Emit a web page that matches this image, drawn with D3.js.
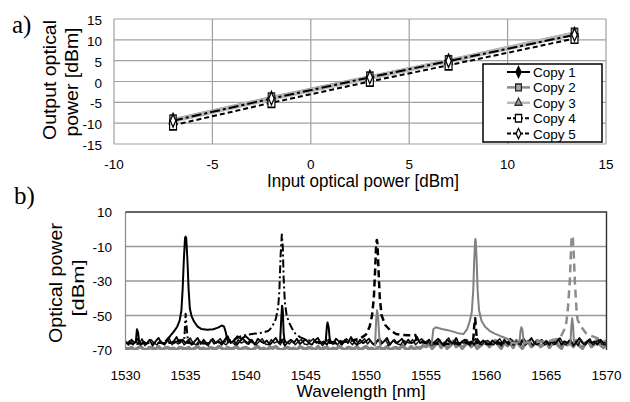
<!DOCTYPE html>
<html>
<head>
<meta charset="utf-8">
<script src="https://d3js.org/d3.v7.min.js"></script>
<style>
body { margin: 0; background: #fff; }
svg text { font-family: "Liberation Sans", Arial, sans-serif; fill: #000; }
</style>
</head>
<body>
<div id="chart"></div>
<script>
// ---- a) output vs input power ----
var inputPower = [-7, -2, 3, 7, 13.4];
var copy1Out = [-9.3, -4.0, 1.0, 4.9, 11.3];
var copy2Out = [-9.1, -3.8, 1.2, 5.1, 11.7];
var copy3Out = [-9.4, -4.1, 0.9, 4.9, 11.5];
var copy4Out = [-10.5, -5.1, 0.0, 3.9, 10.3];
var copy5Out = [-9.4, -4.1, 1.0, 4.9, 11.2];
var copyNames = ["Copy 1", "Copy 2", "Copy 3", "Copy 4", "Copy 5"];
var xTicksA = [-10, -5, 0, 5, 10, 15];
var yTicksA = [-15, -10, -5, 0, 5, 10, 15];

// ---- b) optical spectra ----
var xTicksB = [1530, 1535, 1540, 1545, 1550, 1555, 1560, 1565, 1570];
var yTicksB = [10, -10, -30, -50, -70];
// noise floors sampled every 0.25 nm
var floorStep = 0.25;
var floorStartA = 1530, floorStartB = 1530.125;
var floorBlack = [
  -65,-67,-64,-66,-63.5,-67,-65,-66.5,-64,-67.5,-65,-63,-66,-67,-64.5,-66,-65,-62.5,-66,-64,
  -66,-64,-67,-65,-63,-66.5,-64,-67,-65.5,-63.5,-66,-65,-67,-64,-62,-66,-64.5,-67,-65,-63.5,
  -65,-66.5,-64,-67,-63.5,-65,-66,-64.5,-67,-65,-63,-66,-64,-67.5,-65.5,-64,-66,-63.5,-66.5,-65,
  -64,-66,-67,-64.5,-63,-66,-65,-67,-64,-66.5,-63.5,-65,-67,-64,-66,-62.5,-65.5,-67,-64,-66,
  -65,-63.5,-66,-67,-64,-66.5,-65,-63,-67,-64.5,-66,-65,-63.5,-67,-64,-66,-65.5,-62.5,-66,-64.5,
  -66,-64,-67,-65,-63.5,-66,-67.5,-64,-65.5,-66,-63,-67,-65,-64,-66.5,-65,-67,-63.5,-66,-64.5,
  -66,-67,-64.5,-66,-65,-67.5,-64,-66,-63.5,-67,-65,-66.5,-64,-67,-65.5,-63,-66,-67,-64.5,-66,
  -65,-67,-64,-66.5,-63.5,-67,-65,-66,-64,-67.5,-65.5,-63,-66,-67,-64.5,-66,-65,-67,-64,-66,
  -65];
var floorBlack2 = [
  -66,-64.5,-67,-65,-66.5,-63.5,-67.5,-65,-64,-66,-67,-64.5,-66,-65.5,-63,-67,-65,-66.5,-64,-67,
  -65.5,-63,-66,-67,-64.5,-66,-65,-67.5,-64,-66.5,-65,-63.5,-66,-67,-64.5,-65.5,-67,-64,-66,-65,
  -66.5,-64,-65.5,-67,-65,-63.5,-66.5,-67,-64,-66,-65,-67,-63.5,-65.5,-66.5,-64.5,-67,-65,-64,-66.5,
  -67,-65,-63.5,-66,-64.5,-67.5,-65.5,-64,-66,-65,-67,-64.5,-66,-63.5,-65,-67,-64,-66.5,-65.5,-63.5,
  -66.5,-64.5,-67,-65,-63.5,-66,-64,-67.5,-65.5,-64,-66.5,-67,-64.5,-65.5,-66,-64,-67,-65,-63.5,-66,
  -64.5,-67,-65.5,-66,-64,-67,-65,-63,-66.5,-64.5,-67,-65.5,-66,-64,-67.5,-65,-63.5,-66,-67,-65,
  -64.5,-66,-67,-65,-63.5,-66.5,-65,-67,-64,-66,-65.5,-67,-63.5,-66,-64.5,-67.5,-65,-66,-64,-67,
  -66,-64.5,-67,-65.5,-63,-66,-67,-64.5,-66,-65,-67.5,-64,-66.5,-65,-63.5,-67,-65.5,-64,-66.5,-67,
  -65.5];
var floorGray = [
  -69,-69.5,-68.5,-70,-69,-68,-69.5,-70,-68.5,-69,-69.5,-68,-70,-69,-68.5,-69.5,-69,-70,-68.5,-69,
  -69.5,-68.5,-70,-69,-68,-69.5,-69,-70,-68.5,-69,-69.5,-68,-69,-70,-68.5,-69.5,-69,-68,-70,-69,
  -68.5,-69.5,-70,-69,-68,-69.5,-69,-70,-68.5,-69,-68,-69.5,-70,-69,-68.5,-69.5,-69,-70,-68,-69,
  -69.5,-68.5,-69,-70,-68,-69.5,-69,-68.5,-70,-69,-69.5,-68,-69,-70,-68.5,-69,-69.5,-68,-70,-69,
  -68,-69.5,-69,-70,-68.5,-69,-69.5,-68,-70,-69,-68.5,-69.5,-67.5,-69,-70,-68,-69.5,-68.5,-69,-67.5,
  -68,-66.5,-69,-67,-65.5,-68.5,-66,-69,-67.5,-65,-68,-66.5,-69,-67,-65.5,-68,-66,-69,-67.5,-66,
  -65.5,-68,-66.5,-64.5,-67,-69,-65.5,-67.5,-66,-68.5,-64.5,-67,-69,-66,-65,-68,-66.5,-64.5,-68,-67,
  -65,-68.5,-66,-64.5,-67.5,-69,-65.5,-67,-66,-68,-64.5,-67.5,-69,-66,-65,-68,-66.5,-64,-67,-68.5,
  -66];

// peaks, [wavelength nm, power dBm], one list per segment
var spec1535 = [
  [[1530.85,-66],[1530.95,-58],[1531.05,-60],[1531.15,-66]],
  [[1533.3,-65],[1533.7,-62],[1534.0,-59.5],[1534.3,-56.5],[1534.5,-53],[1534.65,-47],[1534.75,-35],
   [1534.85,-18],[1534.95,-5],[1535.0,-4.3],[1535.05,-5],[1535.15,-18],[1535.25,-35],[1535.35,-46],
   [1535.5,-50.5],[1535.7,-53.5],[1536.0,-56.5],[1536.3,-57.8],[1536.8,-58.3],[1537.3,-58],[1537.7,-57],
   [1538.0,-55.8],[1538.2,-56.5],[1538.35,-60],[1538.45,-64],[1538.6,-66]],
  [[1539.0,-65],[1539.3,-62],[1539.6,-63.5],[1540.0,-62],[1540.3,-64],[1540.6,-66]],
  [[1542.85,-66],[1542.95,-52],[1543.02,-44.3],[1543.08,-47],[1543.15,-60],[1543.25,-66]],
  [[1546.65,-65],[1546.75,-56],[1546.8,-54],[1546.9,-57],[1547.0,-65]]
];
var spec1543 = [
  [[1530,-66],[1531,-66.5],[1532,-66],[1533,-66],[1534,-66],[1534.9,-63],[1535.0,-49],[1535.1,-58],
   [1535.2,-66],[1536,-66.5],[1537,-66],[1538,-65.5],[1539,-64],[1539.6,-62],[1540.2,-61],[1540.8,-60.5],
   [1541.4,-60],[1541.9,-58.8],[1542.2,-56.5],[1542.5,-52],[1542.7,-45],[1542.8,-35],[1542.9,-15],
   [1543.0,-3],[1543.08,-10],[1543.15,-28],[1543.25,-42],[1543.4,-50],[1543.6,-54],[1543.85,-57.5],
   [1544.1,-60.3],[1544.5,-62.5],[1545,-64],[1546,-65.5],[1547,-66],[1548,-66.5]]
];
var spec1551 = [
  [[1546,-66],[1547.5,-65.5],[1548.5,-65],[1549.5,-63.5],[1550.0,-61],[1550.3,-56.5],[1550.5,-50],
   [1550.65,-40],[1550.75,-25],[1550.85,-8],[1550.9,-6.2],[1550.95,-8],[1551.05,-25],[1551.15,-40],
   [1551.3,-50],[1551.6,-55.5],[1552.0,-58.5],[1552.5,-60.7],[1553.0,-61.2],[1553.5,-61.5],[1554.1,-61.3],
   [1554.3,-65],[1555,-66],[1556.5,-66.5],[1558,-66],[1558.9,-66],[1559.0,-56],[1559.08,-51.6],
   [1559.15,-58],[1559.25,-66],[1560,-66.5],[1562,-66]]
];
var spec1559 = [
  [[1550.75,-68],[1550.85,-52],[1550.92,-47],[1551.0,-50],[1551.1,-62],[1551.2,-68]],
  [[1555.45,-67],[1555.6,-58],[1555.8,-56.8],[1556.3,-57.8],[1556.8,-58.5],[1557.3,-59.5],[1557.8,-60.5],
   [1558.1,-60.8],[1558.4,-58],[1558.6,-54],[1558.8,-48],[1558.92,-35],[1559.0,-18],[1559.07,-7],
   [1559.1,-5.6],[1559.13,-7],[1559.2,-18],[1559.28,-35],[1559.4,-47],[1559.6,-53],[1559.9,-56.5],
   [1560.3,-59],[1560.7,-60.5],[1561.2,-62],[1561.7,-63.3],[1562.1,-65]],
  [[1562.75,-66],[1562.85,-59],[1562.92,-56.8],[1563.0,-58],[1563.1,-64],[1563.2,-67]],
  [[1567.0,-66],[1567.08,-56],[1567.15,-51.6],[1567.22,-56],[1567.3,-66]]
];
var spec1567 = [
  [[1562,-66],[1564,-65.5],[1565.5,-64.5],[1566.2,-62.3],[1566.5,-58],[1566.65,-54.5],[1566.8,-45],
   [1566.95,-30],[1567.05,-12],[1567.1,-4.5],[1567.15,-3.7],[1567.2,-5],[1567.28,-15],[1567.38,-32],
   [1567.5,-46],[1567.6,-52.6],[1567.9,-56.5],[1568.3,-60.3],[1568.8,-62],[1569.25,-63.2],
   [1569.7,-64.5],[1570,-65]]
];

var W = 630, H = 402;
var svg = d3.select("#chart").append("svg")
    .attr("width", W)
    .attr("height", H);

// panel labels
svg.append("text").attr("x", 12).attr("y", 33)
    .style("font-family", "'Liberation Serif', 'Times New Roman', serif")
    .style("font-size", "25px").text("a)");
svg.append("text").attr("x", 14).attr("y", 204)
    .style("font-family", "'Liberation Serif', 'Times New Roman', serif")
    .style("font-size", "25px").text("b)");

/////////////
// PANEL a //
/////////////
var xA = d3.scaleLinear().domain([-10, 15]).range([114, 606]);
var yA = d3.scaleLinear().domain([-15, 15]).range([144, 19]);
var gA = svg.append("g");

gA.selectAll(".hgrid").data(yTicksA).enter().append("line")
    .attr("x1", xA(-10)).attr("x2", xA(15))
    .attr("y1", function (d) { return yA(d); })
    .attr("y2", function (d) { return yA(d); })
    .attr("stroke", "#a0a0a0").attr("stroke-width", 1.2);
gA.selectAll(".vgrid").data(xTicksA).enter().append("line")
    .attr("y1", yA(-15)).attr("y2", yA(15))
    .attr("x1", function (d) { return xA(d); })
    .attr("x2", function (d) { return xA(d); })
    .attr("stroke", "#a0a0a0").attr("stroke-width", 1.2);

gA.selectAll(".ytick").data(yTicksA).enter().append("text")
    .attr("x", 102).attr("y", function (d) { return yA(d) + 6; })
    .attr("text-anchor", "end").style("font-size", "13.5px")
    .text(function (d) { return d; });
gA.selectAll(".xtick").data(xTicksA).enter().append("text")
    .attr("x", function (d) { return xA(d); }).attr("y", 168.5)
    .attr("text-anchor", "middle").style("font-size", "13.5px")
    .text(function (d) { return d; });

gA.append("text").attr("x", 363).attr("y", 187)
    .attr("text-anchor", "middle").style("font-size", "17.5px")
    .attr("textLength", 192).attr("lengthAdjust", "spacingAndGlyphs")
    .text("Input optical power [dBm]");
gA.append("text").attr("transform", "translate(56,80) rotate(-90)")
    .attr("text-anchor", "middle").style("font-size", "18px")
    .attr("textLength", 120).attr("lengthAdjust", "spacingAndGlyphs")
    .text("Output optical");
gA.append("text").attr("transform", "translate(78,82) rotate(-90)")
    .attr("text-anchor", "middle").style("font-size", "18px")
    .attr("textLength", 109).attr("lengthAdjust", "spacingAndGlyphs")
    .text("power [dBm]");

// markers are drawn a bit taller than wide, like the original
var copyStyles = [
    { data: copy1Out, stroke: "#000", width: 2, dash: null, sym: d3.symbolDiamond, size: 30, fill: "#000", mstroke: "#000" },
    { data: copy2Out, stroke: "#8c8c8c", width: 2.5, dash: null, sym: d3.symbolSquare, size: 42, fill: "#a8a8a8", mstroke: "#222" },
    { data: copy3Out, stroke: "#b8b8b8", width: 4.5, dash: null, sym: d3.symbolTriangle, size: 26, fill: "#999", mstroke: "#333" },
    { data: copy4Out, stroke: "#000", width: 2, dash: "5,3", sym: d3.symbolSquare, size: 48, fill: "#fff", mstroke: "#000" },
    { data: copy5Out, stroke: "#000", width: 2, dash: "10,3,3,3", sym: d3.symbolDiamond, size: 26, fill: "#fff", mstroke: "#000" }
];
var drawOrder = [0, 1, 2, 4, 3];

var lineA = d3.line()
    .x(function (d) { return xA(d[0]); })
    .y(function (d) { return yA(d[1]); });

drawOrder.forEach(function (k) {
    var s = copyStyles[k];
    var pts = inputPower.map(function (x, i) { return [x, s.data[i]]; });
    gA.append("path").datum(pts)
        .attr("d", lineA).attr("fill", "none")
        .attr("stroke", s.stroke).attr("stroke-width", s.width)
        .attr("stroke-dasharray", s.dash);
});
[0, 2, 1, 3, 4].forEach(function (k) {
    var s = copyStyles[k];
    var pts = inputPower.map(function (x, i) { return [x, s.data[i]]; });
    gA.selectAll(null).data(pts).enter().append("path")
        .attr("d", d3.symbol().type(s.sym).size(s.size))
        .attr("transform", function (d) { return "translate(" + xA(d[0]) + "," + yA(d[1]) + ") scale(1,1.35)"; })
        .attr("fill", s.fill).attr("stroke", s.mstroke).attr("stroke-width", 1.2);
});

// legend
var leg = gA.append("g");
leg.append("rect").attr("x", 483).attr("y", 64).attr("width", 119).attr("height", 78)
    .attr("fill", "#fff").attr("stroke", "#000").attr("stroke-width", 1.5);
copyNames.forEach(function (name, i) {
    var s = copyStyles[i];
    var ly = 72 + i * 15.4;
    leg.append("line").attr("x1", 507).attr("x2", 530).attr("y1", ly).attr("y2", ly)
        .attr("stroke", s.stroke).attr("stroke-width", Math.min(s.width, 2.5))
        .attr("stroke-dasharray", s.dash ? "4,2" : null);
    leg.append("path").attr("d", d3.symbol().type(s.sym).size(s.size * 0.8))
        .attr("transform", "translate(518.5," + ly + ") scale(1,1.2)")
        .attr("fill", s.fill).attr("stroke", s.mstroke).attr("stroke-width", 1.2);
    leg.append("text").attr("x", 533).attr("y", ly + 5)
        .style("font-size", "13.5px").text(name);
});

/////////////
// PANEL b //
/////////////
var xB = d3.scaleLinear().domain([1530, 1570]).range([125.5, 606.5]);
var yB = d3.scaleLinear().domain([-70, 10]).range([350, 212]);
var gB = svg.append("g");

svg.append("clipPath").attr("id", "clipB").append("rect")
    .attr("x", xB(1530)).attr("y", yB(10)).attr("width", xB(1570) - xB(1530)).attr("height", yB(-70) - yB(10));

gB.selectAll(".hgridB").data([-10, -30, -50]).enter().append("line")
    .attr("x1", xB(1530)).attr("x2", xB(1570))
    .attr("y1", function (d) { return yB(d); })
    .attr("y2", function (d) { return yB(d); })
    .attr("stroke", "#999").attr("stroke-width", 1.4);

gB.selectAll(".ytickB").data(yTicksB).enter().append("text")
    .attr("x", 112).attr("y", function (d) { return yB(d) + 5; })
    .attr("text-anchor", "end").style("font-size", "13.5px")
    .text(function (d) { return d; });
gB.selectAll(".xtickB").data(xTicksB).enter().append("text")
    .attr("x", function (d) { return xB(d); }).attr("y", 380)
    .attr("text-anchor", "middle").style("font-size", "13.5px")
    .text(function (d) { return d; });

gB.append("text").attr("x", 361).attr("y", 397)
    .attr("text-anchor", "middle").style("font-size", "17px")
    .attr("textLength", 129).attr("lengthAdjust", "spacingAndGlyphs")
    .text("Wavelength [nm]");
gB.append("text").attr("transform", "translate(62,283) rotate(-90)")
    .attr("text-anchor", "middle").style("font-size", "18px")
    .attr("textLength", 120).attr("lengthAdjust", "spacingAndGlyphs")
    .text("Optical power");
gB.append("text").attr("transform", "translate(84,288) rotate(-90)")
    .attr("text-anchor", "middle").style("font-size", "17px")
    .attr("textLength", 57).attr("lengthAdjust", "spacingAndGlyphs")
    .text("[dBm]");

var lineB = d3.line()
    .x(function (d) { return xB(d[0]); })
    .y(function (d) { return yB(d[1]); });
var plotB = gB.append("g").attr("clip-path", "url(#clipB)");

function floorPts(vals, start) {
    return vals.map(function (v, i) { return [start + i * floorStep, v]; });
}
function drawSpec(segs, stroke, width, dash) {
    segs.forEach(function (seg) {
        plotB.append("path").datum(seg)
            .attr("d", lineB).attr("fill", "none")
            .attr("stroke", stroke).attr("stroke-width", width)
            .attr("stroke-dasharray", dash)
            .attr("stroke-linejoin", "round");
    });
}

drawSpec([floorPts(floorGray, floorStartA)], "#848484", 3.5, null);
drawSpec([floorPts(floorBlack, floorStartA)], "#000", 1.8, null);
drawSpec([floorPts(floorBlack2, floorStartB)], "#111", 1.5, null);
drawSpec(spec1535, "#000", 2, null);
drawSpec(spec1543, "#000", 2, "8,3,2,3");
drawSpec(spec1551, "#000", 2.5, "7,4");
drawSpec(spec1559, "#808080", 2, null);
drawSpec(spec1567, "#8c8c8c", 2.5, "8,5");

// frame
gB.append("line").attr("x1", xB(1530)).attr("x2", xB(1530)).attr("y1", yB(10)).attr("y2", yB(-70))
    .attr("stroke", "#888").attr("stroke-width", 1.2);
gB.append("path")
    .attr("d", "M" + xB(1530) + "," + yB(10) + "H" + xB(1570) + "V" + yB(-70))
    .attr("fill", "none").attr("stroke", "#333").attr("stroke-width", 1.4);
</script>
</body>
</html>
